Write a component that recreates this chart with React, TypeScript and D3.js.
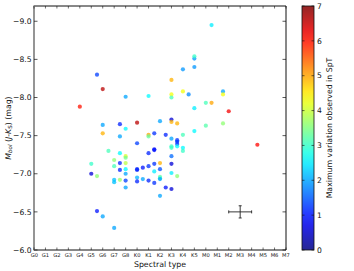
import React from "react";
import * as d3 from "d3";

const xTickLabels = ["G0","G1","G2","G3","G4","G5","G6","G7","G8","K0","K1","K2","K3","K4","K5","M0","M1","M2","M3","M4","M5","M6","M7"];
const yTicks = [-9.0, -8.5, -8.0, -7.5, -7.0, -6.5, -6.0];
const cbTicks = [0, 1, 2, 3, 4, 5, 6, 7];

// spectral type index (G0 = 0), bolometric magnitude, max variation in SpT
const spt = [5.5,6,4,8,10,12,12,12,6,7.5,9,11,6,8,7.5,10,10,10.5,11.5,9,5,5,5.5,5.5,6,7,6.5,7.5,7,7,7.5,7.5,7,7,7.5,8,8,8,8,8,8,8,9,9,9,9,9.5,9.5,10,10,10,10.5,10.5,10.5,10.5,10.5,11,11,11,11,11,11,11.5,12,12,12,12,12,12,12,12.5,12.5,12.5,12.5,12.5,13,13,13,19.5,12,12,12.5,14,15,16.5,17,14,15,15.5,16.5,16.5,13.5,13,13,14,14,14,15.5];
const mbol = [-8.30,-8.11,-7.88,-8.01,-8.02,-8.23,-8.04,-8.00,-7.64,-7.65,-7.67,-7.69,-7.53,-7.59,-7.49,-7.51,-7.49,-7.53,-7.51,-7.40,-7.13,-7.00,-6.97,-6.51,-6.44,-6.29,-7.30,-7.27,-7.18,-7.10,-7.14,-7.05,-6.92,-6.89,-6.92,-7.23,-7.21,-7.14,-7.06,-7.00,-6.91,-6.82,-7.06,-7.05,-6.95,-6.90,-7.08,-6.93,-7.27,-7.10,-6.91,-7.32,-7.31,-7.13,-7.03,-6.88,-7.14,-7.06,-6.96,-6.94,-6.93,-6.71,-6.82,-7.46,-7.36,-7.34,-7.23,-7.13,-7.01,-6.80,-7.44,-7.42,-7.39,-7.36,-6.97,-7.51,-7.34,-7.30,-7.38,-7.71,-7.68,-7.66,-7.56,-7.63,-7.66,-7.82,-7.86,-7.93,-7.93,-8.08,-8.04,-8.04,-8.08,-8.37,-8.40,-8.51,-8.54,-8.95];
const dspt = [1.3,6.6,6.0,2.0,2.6,4.9,4.3,3.1,2.0,1.1,6.6,2.0,4.9,2.6,2.0,5.0,3.3,1.2,1.1,1.3,3.0,0.6,3.6,1.0,2.0,2.0,3.1,2.6,3.6,3.1,1.1,1.1,2.2,2.2,3.7,4.1,3.4,3.9,2.6,2.0,1.3,2.0,1.1,1.1,2.1,1.1,1.0,2.0,1.1,1.2,1.1,0.9,1.0,1.2,2.5,1.2,4.9,1.4,3.2,3.0,2.0,2.0,1.0,2.0,3.0,3.0,1.6,0.6,2.5,0.6,1.2,1.2,1.2,2.6,3.6,3.1,2.6,3.0,6.1,0.6,4.9,4.9,2.6,3.2,3.6,6.2,2.5,3.1,5.0,2.0,4.3,1.8,4.3,1.9,1.9,1.9,3.0,2.5];

// typical error bar
const errX = [18];
const errY = [-6.5];
const errXw = [1];
const errYw = [0.08];

function jet(t: number): string {
  const c = (v: number) => Math.max(0, Math.min(1, v));
  const r = c(1.5 - Math.abs(4 * t - 3));
  const g = c(1.5 - Math.abs(4 * t - 2));
  const b = c(1.5 - Math.abs(4 * t - 1));
  return d3.rgb(r * 255, g * 255, b * 255).formatHex();
}

export default function App() {
  const W = 354, H = 271;
  const L = 34, R = 286, T = 6, B = 250;
  const x = d3.scaleLinear().domain([0, 22]).range([L, R]);
  const y = d3.scaleLinear().domain([-6.0, -9.2]).range([B, T]);
  const cmin = 0, cmax = 7;
  const cb = d3.scaleLinear().domain([cmin, cmax]).range([B, T]);
  const color = (v: number) => jet((v - cmin) / (cmax - cmin));
  const cbX = 302, cbW = 12;
  const font = "DejaVu Sans, sans-serif";
  const stops = d3.range(0, 1.0001, 0.05);
  const fmt = (v: number) => (v < 0 ? "\u2212" : "") + Math.abs(v).toFixed(1);

  return (
    <svg width={W} height={H} style={{ position: "absolute", left: 0, top: 0, background: "#fff" }} fontFamily={font}>
      <defs>
        <linearGradient id="jetg" x1="0" y1="1" x2="0" y2="0">
          {stops.map((s, i) => (
            <stop key={i} offset={s} stopColor={jet(s)} />
          ))}
        </linearGradient>
      </defs>
      {/* points */}
      {spt.map((s, i) => (
        <circle key={i} cx={x(s)} cy={y(mbol[i])} r={2.1} fill={color(dspt[i])} fillOpacity={0.75} />
      ))}
      {/* error bar */}
      {errX.map((ex, i) => (
        <g key={i} stroke="#222" strokeWidth={0.9}>
          <line x1={x(ex - errXw[i])} x2={x(ex + errXw[i])} y1={y(errY[i])} y2={y(errY[i])} />
          <line x1={x(ex)} x2={x(ex)} y1={y(errY[i] - errYw[i])} y2={y(errY[i] + errYw[i])} />
          <line x1={x(ex - errXw[i])} x2={x(ex - errXw[i])} y1={y(errY[i]) - 1.5} y2={y(errY[i]) + 1.5} />
          <line x1={x(ex + errXw[i])} x2={x(ex + errXw[i])} y1={y(errY[i]) - 1.5} y2={y(errY[i]) + 1.5} />
          <line x1={x(ex) - 1.5} x2={x(ex) + 1.5} y1={y(errY[i] - errYw[i])} y2={y(errY[i] - errYw[i])} />
          <line x1={x(ex) - 1.5} x2={x(ex) + 1.5} y1={y(errY[i] + errYw[i])} y2={y(errY[i] + errYw[i])} />
        </g>
      ))}
      {/* frame */}
      <line x1={L} x2={R} y1={T} y2={T} stroke="#111" strokeWidth={1} />
      <line x1={L} x2={R} y1={B} y2={B} stroke="#111" strokeWidth={1} />
      <line x1={R} x2={R} y1={T} y2={B} stroke="#111" strokeWidth={1} />
      <line x1={L} x2={L} y1={T - 0.5} y2={B + 0.5} stroke="#8a8a8a" strokeWidth={1.8} />
      {/* x ticks */}
      {xTickLabels.map((lab, i) => (
        <g key={lab}>
          <line x1={x(i)} x2={x(i)} y1={B} y2={B - 2.5} stroke="#111" strokeWidth={0.6} />
          <line x1={x(i)} x2={x(i)} y1={T} y2={T + 2.5} stroke="#111" strokeWidth={0.6} />
          <text x={x(i) + (i === 0 ? 0.5 : 0)} y={B + 7.2} fontSize={5.2} textAnchor="middle" fill="#222">{lab}</text>
        </g>
      ))}
      {/* y ticks */}
      {yTicks.map((v) => (
        <g key={v}>
          <line x1={L} x2={L + 3.5} y1={y(v)} y2={y(v)} stroke="#111" strokeWidth={0.7} />
          <line x1={R} x2={R - 3.5} y1={y(v)} y2={y(v)} stroke="#111" strokeWidth={0.7} />
          <text x={L - 2.5} y={y(v) + 2.7} fontSize={7.6} textAnchor="end" fill="#111">{fmt(v)}</text>
        </g>
      ))}
      <text x={(L + R) / 2} y={267} fontSize={7.8} textAnchor="middle" fill="#111">Spectral type</text>
      <text transform={`translate(10.5,${(T + B) / 2}) rotate(-90)`} fontSize={7.8} textAnchor="middle" fill="#111">
        <tspan fontStyle="italic">M</tspan>
        <tspan fontStyle="italic" fontSize={5.5} dy={1.8}>bol</tspan>
        <tspan dy={-1.8}> (</tspan>
        <tspan fontStyle="italic">J</tspan>
        <tspan>-</tspan>
        <tspan fontStyle="italic">K</tspan>
        <tspan fontSize={5.5} dy={1.8}>S</tspan>
        <tspan dy={-1.8}>) (mag)</tspan>
      </text>
      {/* colorbar */}
      <rect x={cbX} y={T} width={cbW} height={B - T} fill="url(#jetg)" fillOpacity={0.85} />
      <rect x={cbX} y={T} width={cbW} height={B - T} fill="none" stroke="#111" strokeWidth={0.8} />
      {cbTicks.map((v) => (
        <g key={v}>
          <line x1={cbX + cbW} x2={cbX + cbW - 2.5} y1={cb(v)} y2={cb(v)} stroke="#111" strokeWidth={0.6} />
          <line x1={cbX} x2={cbX + 2.5} y1={cb(v)} y2={cb(v)} stroke="#111" strokeWidth={0.6} />
          <text x={cbX + cbW + 3} y={cb(v) + 2.7} fontSize={7.6} fill="#111">{v}</text>
        </g>
      ))}
      <text transform={`translate(332,${(T + B) / 2}) rotate(-90)`} fontSize={7.8} textAnchor="middle" fill="#111">
        Maximum variation observed in SpT
      </text>
    </svg>
  );
}
